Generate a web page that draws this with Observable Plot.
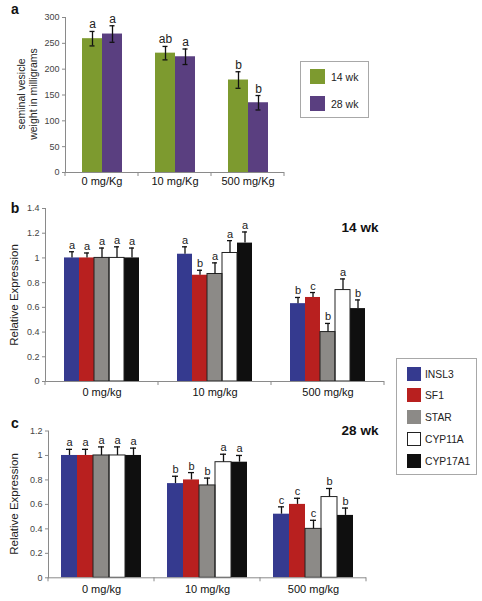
<!DOCTYPE html>
<html><head><meta charset="utf-8">
<script src="https://cdn.jsdelivr.net/npm/d3@7"></script>
<script src="https://cdn.jsdelivr.net/npm/@observablehq/plot@0.6"></script>
<style>
body{margin:0;background:#fff;font-family:"Liberation Sans",Arial,sans-serif;}
#root{position:relative;width:482px;height:601px;overflow:hidden;background:#fff;}
.abs{position:absolute;}
.plot{position:absolute;}
.rot{position:absolute;transform:translate(-50%,-50%) rotate(-90deg);white-space:nowrap;text-align:center;color:#222;}
.lbl{position:absolute;font-weight:bold;color:#111;transform:translate(-50%,-50%);}
.legend{position:absolute;box-sizing:border-box;border:1px solid #a8a8a8;background:#fff;}
.sw{position:absolute;box-sizing:border-box;}
.lt{position:absolute;color:#222;white-space:nowrap;transform:translateY(-50%);}
</style></head><body><div id="root"></div>
<script>
// ---------- Panel a data ----------
const dosesA = ["0 mg/Kg", "10 mg/Kg", "500 mg/Kg"];
const ages = ["14 wk", "28 wk"];
const ageColors = ["#7d9a2f", "#5a3f80"];
const weight14 = [259, 231, 179];
const weight14Err = [14, 13, 16];
const weight14Letters = ["a", "ab", "b"];
const weight28 = [268, 224, 135];
const weight28Err = [16, 15, 14];
const weight28Letters = ["a", "a", "b"];
const weightTicks = [0, 50, 100, 150, 200, 250, 300];

// ---------- Panels b & c data ----------
const dosesBC = ["0 mg/kg", "10 mg/kg", "500 mg/kg"];
const genes = ["INSL3", "SF1", "STAR", "CYP11A", "CYP17A1"];
const geneColors = ["#353a8f", "#b8201f", "#8c8a87", "#ffffff", "#0f0f0f"];
const exprTicksB = [0, 0.2, 0.4, 0.6, 0.8, 1, 1.2, 1.4];
const exprTicksC = [0, 0.2, 0.4, 0.6, 0.8, 1, 1.2];

// 14 wk (panel b): per gene, values at 0, 10, 500 mg/kg
const b_INSL3 = [1.00, 1.03, 0.63], b_INSL3_err = [0.05, 0.06, 0.05], b_INSL3_let = ["a", "a", "b"];
const b_SF1 = [1.00, 0.86, 0.68], b_SF1_err = [0.04, 0.04, 0.04], b_SF1_let = ["a", "b", "c"];
const b_STAR = [1.00, 0.87, 0.40], b_STAR_err = [0.08, 0.09, 0.07], b_STAR_let = ["a", "a", "b"];
const b_CYP11A = [1.00, 1.04, 0.74], b_CYP11A_err = [0.09, 0.10, 0.09], b_CYP11A_let = ["a", "a", "a"];
const b_CYP17A1 = [1.00, 1.12, 0.59], b_CYP17A1_err = [0.08, 0.09, 0.07], b_CYP17A1_let = ["a", "a", "b"];

// 28 wk (panel c)
const c_INSL3 = [1.00, 0.77, 0.52], c_INSL3_err = [0.05, 0.06, 0.06], c_INSL3_let = ["a", "b", "c"];
const c_SF1 = [1.00, 0.80, 0.60], c_SF1_err = [0.05, 0.06, 0.05], c_SF1_let = ["a", "b", "c"];
const c_STAR = [1.00, 0.755, 0.40], c_STAR_err = [0.07, 0.06, 0.07], c_STAR_let = ["a", "b", "c"];
const c_CYP11A = [1.00, 0.945, 0.66], c_CYP11A_err = [0.07, 0.065, 0.07], c_CYP11A_let = ["a", "a", "b"];
const c_CYP17A1 = [1.00, 0.945, 0.51], c_CYP17A1_err = [0.06, 0.055, 0.06], c_CYP17A1_let = ["a", "a", "b"];

// ---------- build tables ----------
function table(doses, groups, vals, errs, lets) {
  const out = [];
  doses.forEach((dose, i) => groups.forEach((g, j) => out.push({dose, group: g, value: vals[j][i], err: errs[j][i], letter: lets[j][i]})));
  return out;
}
const dataA = table(dosesA, ages, [weight14, weight28], [weight14Err, weight28Err], [weight14Letters, weight28Letters]);
const dataB = table(dosesBC, genes,
  [b_INSL3, b_SF1, b_STAR, b_CYP11A, b_CYP17A1],
  [b_INSL3_err, b_SF1_err, b_STAR_err, b_CYP11A_err, b_CYP17A1_err],
  [b_INSL3_let, b_SF1_let, b_STAR_let, b_CYP11A_let, b_CYP17A1_let]);
const dataC = table(dosesBC, genes,
  [c_INSL3, c_SF1, c_STAR, c_CYP11A, c_CYP17A1],
  [c_INSL3_err, c_SF1_err, c_STAR_err, c_CYP11A_err, c_CYP17A1_err],
  [c_INSL3_let, c_SF1_let, c_STAR_let, c_CYP11A_let, c_CYP17A1_let]);

const root = document.getElementById("root");
const AX = "#8a8a8a";
const FONT = "Liberation Sans, Arial, sans-serif";

function panel(o) {
  const top = d => d.value + d.err;
  const outlined = new Set(o.outlined || []);
  const marks = [
    Plot.barY(o.data, {fx: "dose", x: "group", y: "value", fill: "group"}),
    Plot.barY(o.data.filter(d => outlined.has(d.group)), {fx: "dose", x: "group", y: "value", fill: "none", stroke: "#222", strokeWidth: 1}),
    Plot.ruleX(o.data, {fx: "dose", x: "group", y1: o.twoSided ? (d => d.value - d.err) : "value", y2: top, stroke: "#111", strokeWidth: 1.3}),
    Plot.tickY(o.data, {fx: "dose", x: "group", y: top, insetLeft: o.capInset, insetRight: o.capInset, stroke: "#111", strokeWidth: 1.3}),
    Plot.text(o.data, {fx: "dose", x: "group", y: top, text: "letter", lineAnchor: "bottom", dy: -3, fontSize: o.letterSize, fill: "#222"}),
    Plot.frame({anchor: "left", facetAnchor: "left", stroke: AX}),
    Plot.ruleY([0], {stroke: AX}),
    Plot.axisY(o.ticks, {tickSize: 3, tickPadding: 3, tickFormat: d => String(+d.toFixed(1)), stroke: AX, fill: "#444", fontSize: 9, label: null}),
    Plot.axisFx({anchor: "bottom", tickSize: 0, tickPadding: o.fxPad, fontSize: 11, fill: "#111", label: null})
  ];
  if (o.twoSided) marks.splice(4, 0, Plot.tickY(o.data, {fx: "dose", x: "group", y: d => d.value - d.err, insetLeft: o.capInset, insetRight: o.capInset, stroke: "#111", strokeWidth: 1.3}));
  const plot = Plot.plot({
    width: o.width, height: o.height,
    marginLeft: o.ml, marginRight: o.mr, marginTop: o.mt, marginBottom: o.mb,
    style: {fontFamily: FONT, fontSize: "9px", background: "transparent", overflow: "visible"},
    fx: {domain: o.doses, padding: 0, label: null},
    x: {domain: o.groups, paddingInner: 0, paddingOuter: o.padOuter, axis: null},
    y: {domain: o.yDomain, label: null},
    color: {domain: o.groups, range: o.colors},
    marks
  });
  // category separator ticks on the x axis (band edges of fx)
  const fx = plot.scale("fx"), y = plot.scale("y");
  const y0 = y.apply(0);
  const edges = fx.domain.map(d => fx.apply(d));
  edges.push(fx.apply(fx.domain[fx.domain.length - 1]) + fx.bandwidth);
  d3.select(plot).append("g").selectAll("line").data(edges).join("line")
    .attr("x1", d => d).attr("x2", d => d).attr("y1", y0).attr("y2", y0 + 4)
    .attr("stroke", AX);
  plot.classList.add("plot");
  plot.style.left = "0px";
  plot.style.top = o.top + "px";
  root.appendChild(plot);
}

panel({data: dataA, doses: dosesA, groups: ages, colors: ageColors, yDomain: [0, 300], ticks: weightTicks,
  width: 290, height: 195, ml: 64, mr: 6, mt: 17, mb: 23, top: 0, padOuter: 0.745, twoSided: true, capInset: 7.5, letterSize: 12, fxPad: 5});
panel({data: dataB, doses: dosesBC, groups: genes, colors: geneColors, yDomain: [0, 1.4], ticks: exprTicksB, outlined: ["STAR", "CYP11A"],
  width: 390, height: 210, ml: 44, mr: 5, mt: 13, mb: 24, top: 195, padOuter: 1.12, twoSided: false, capInset: 5, letterSize: 11, fxPad: 7});
panel({data: dataC, doses: dosesBC, groups: genes, colors: geneColors, yDomain: [0, 1.2], ticks: exprTicksC, outlined: ["STAR", "CYP11A"],
  width: 372, height: 186, ml: 47, mr: 5, mt: 15.5, mb: 23.7, top: 415, padOuter: 0.75, twoSided: false, capInset: 5, letterSize: 11, fxPad: 7});

// ---------- HTML overlays: panel letters, titles, y labels, legends ----------
function el(cls, html, css) {
  const d = document.createElement("div");
  d.className = cls; d.innerHTML = html;
  Object.assign(d.style, css);
  root.appendChild(d);
  return d;
}
el("lbl", "a", {left: "15px", top: "9px", fontSize: "14px"});
el("lbl", "b", {left: "15px", top: "208px", fontSize: "14px"});
el("lbl", "c", {left: "15px", top: "423px", fontSize: "14px"});
el("lbl", "14 wk", {left: "360px", top: "227px", fontSize: "13.5px"});
el("lbl", "28 wk", {left: "360px", top: "430px", fontSize: "13.5px"});
el("rot", "seminal vesicle<br>weight in milligrams", {left: "27px", top: "94px", fontSize: "10.5px", lineHeight: "12px"});
el("rot", "Relative Expression", {left: "14px", top: "295px", fontSize: "11.5px"});
el("rot", "Relative Expression", {left: "14px", top: "504px", fontSize: "11.5px"});

// legend a
const legA = el("legend", "", {left: "300px", top: "61px", width: "69px", height: "57px"});
ages.forEach((a, i) => {
  const s = document.createElement("div"); s.className = "sw";
  Object.assign(s.style, {left: "9px", top: (7 + i * 27) + "px", width: "15px", height: "15px", background: ageColors[i]});
  legA.appendChild(s);
  const t = document.createElement("div"); t.className = "lt"; t.textContent = a;
  Object.assign(t.style, {left: "30px", top: (14.5 + i * 27) + "px", fontSize: "10.5px"});
  legA.appendChild(t);
});
// legend b/c
const legB = el("legend", "", {left: "396px", top: "358px", width: "81px", height: "117px"});
genes.forEach((g, i) => {
  const s = document.createElement("div"); s.className = "sw";
  Object.assign(s.style, {left: "10px", top: (7.5 + i * 21.8) + "px", width: "14px", height: "14px", background: geneColors[i],
    border: g === "CYP11A" ? "1px solid #222" : "none"});
  legB.appendChild(s);
  const t = document.createElement("div"); t.className = "lt"; t.textContent = g;
  Object.assign(t.style, {left: "28px", top: (14.5 + i * 21.8) + "px", fontSize: "10.3px"});
  legB.appendChild(t);
});
</script></body></html>
